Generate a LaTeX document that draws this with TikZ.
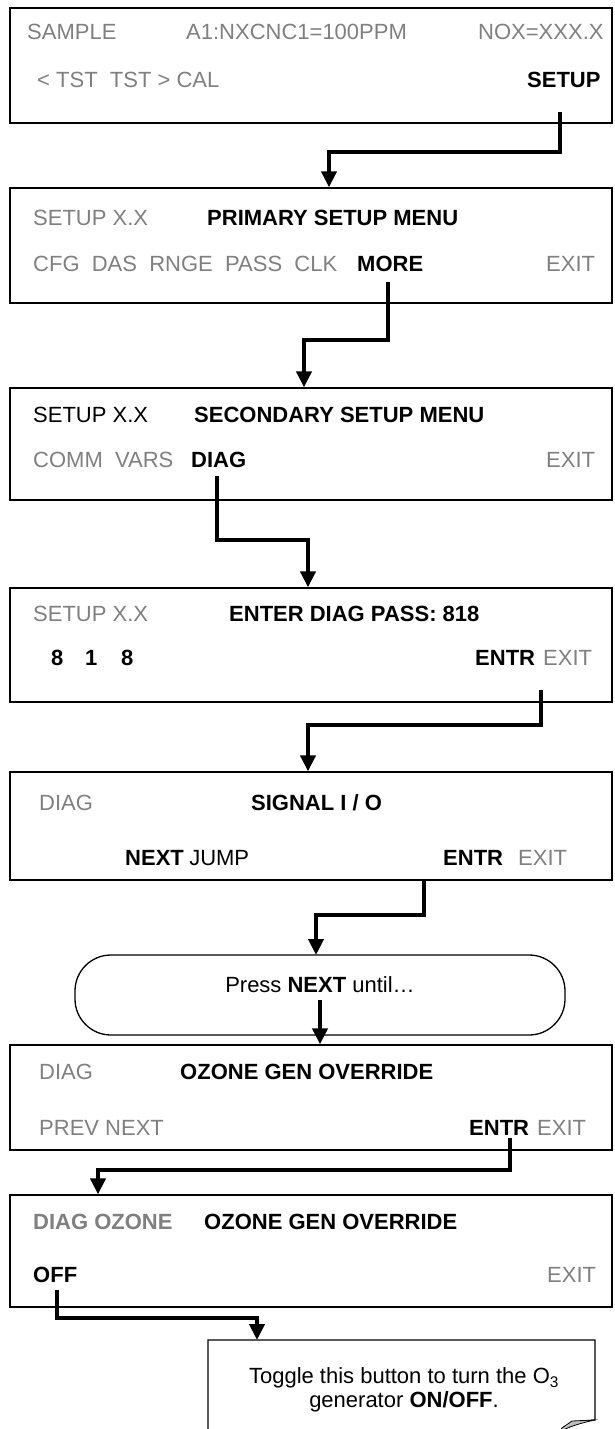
\documentclass[tikz,border=0pt]{standalone}
\usepackage{fontspec}
\setmainfont{Liberation Sans}
\usetikzlibrary{arrows.meta}
\definecolor{txtgray}{HTML}{808080}
\begin{document}
\begin{tikzpicture}[x=1pt,y=-1pt,
  screen/.style={draw, line width=1.3pt, minimum width=602pt, inner sep=0pt},
  g/.style={anchor=west, text=txtgray, font=\fontsize{22}{26}\selectfont, inner sep=0pt},
  gb/.style={anchor=west, text=txtgray, font=\fontsize{22}{26}\selectfont\bfseries, inner sep=0pt},
  b/.style={anchor=west, font=\fontsize{22}{26}\selectfont\bfseries, inner sep=0pt},
  k/.style={anchor=west, font=\fontsize{22}{26}\selectfont, inner sep=0pt},
  conn/.style={line width=4pt, -{Triangle[length=16pt,width=15pt]}},
]
\useasboundingbox (0,0) rectangle (615,1429);
\fill[white] (0,0) rectangle (615,1429);

% screens
\node[screen, minimum height=115pt] (s1) at (311,65.5) {};
\node[screen, minimum height=115pt] (s2) at (311,245.5) {};
\node[screen, minimum height=112pt] (s3) at (311,444) {};
\node[screen, minimum height=114pt] (s4) at (311,645) {};
\node[screen, minimum height=108pt] (s5) at (311,826) {};
\node[screen, minimum height=105pt] (s6) at (311,1097.5) {};
\node[screen, minimum height=112pt] (s7) at (311,1251) {};

% box 1
\node[g] (t1a) at (27,32) {SAMPLE};
\node[g] (t1b) at (186,32) {A1:NXCNC1=100PPM};
\node[g] (t1c) at (478,32) {NOX=XXX.X};
\node[g] (t1d) at (37,80) {< TST\ \ TST > CAL};
\node[b] (setup) at (527,80) {SETUP};

% box 2
\node[g] (t2a) at (33,218) {SETUP X.X};
\node[b] (t2b) at (207,218) {PRIMARY SETUP MENU};
\node[g] (t2c) at (33,264) {CFG\ \ DAS\ \ RNGE\ \ PASS\ \ CLK};
\node[b] (more) at (357,264) {MORE};
\node[g] (t2e) at (546,264) {EXIT};

% box 3
\node[k] (t3a) at (33,415) {SETUP X.X};
\node[b] (t3b) at (194,415) {SECONDARY SETUP MENU};
\node[g] (t3c) at (33,460) {COMM\ \ VARS};
\node[b] (diag) at (191,460) {DIAG};
\node[g] (t3e) at (546,460) {EXIT};

% box 4
\node[g] (t4a) at (33,614) {SETUP X.X};
\node[b] (t4b) at (229,614) {ENTER DIAG PASS: 818};
\node[b] (n8a) at (51,658) {8};
\node[b] (n1) at (85,658) {1};
\node[b] (n8b) at (121,658) {8};
\node[b] (entr4) at (475,658) {ENTR};
\node[g] (t4e) at (543,658) {EXIT};

% box 5
\node[g] (t5a) at (39,803) {DIAG};
\node[b] (t5b) at (251,803) {SIGNAL I / O};
\node[b] (next5) at (125,858) {NEXT};
\node[k, anchor=base west] (jump) at ([xshift=5pt]next5.base east) {JUMP};
\node[b] (entr5) at (443,858) {ENTR};
\node[g] (t5e) at (518,858) {EXIT};

% press next
\draw[line width=1.3pt, rounded corners=36pt] (75,955) rectangle (565,1035);
\node[font=\fontsize{22}{26}\selectfont, inner sep=0pt] (press) at (320,985) {Press \textbf{NEXT} until…};

% box 6
\node[g] (t6a) at (39,1072) {DIAG};
\node[b] (t6b) at (180,1072) {OZONE GEN OVERRIDE};
\node[g] (t6c) at (39,1128) {PREV NEXT};
\node[b] (entr6) at (469,1128) {ENTR};
\node[g] (t6e) at (537,1128) {EXIT};

% box 7
\node[gb] (t7a) at (33,1222) {DIAG OZONE};
\node[b] (t7b) at (204,1222) {OZONE GEN OVERRIDE};
\node[b] (off) at (33,1275) {OFF};
\node[g] (t7e) at (547,1275) {EXIT};

% callout
\begin{scope}
\clip (0,0) rectangle (615,1429);
\draw[line width=1.3pt] (208,1440) -- (208,1340) -- (595,1340) -- (595,1420) .. controls (584,1421) and (572,1423) .. (562,1428);
\fill[gray!50, draw=black, line width=0.8pt] (562,1428) -- (572,1421) -- (594,1420) .. controls (582,1423) and (570,1426) .. (559,1432) -- cycle;
\end{scope}
\node[font=\fontsize{22}{24}\selectfont, align=center, inner sep=0pt] (note) at (404,1390)
  {Toggle this button to turn the O\textsubscript{3}\\generator \textbf{ON/OFF}.};

% connectors
\coordinate (a1) at (560,112);
\coordinate (j1) at (329,152);
\draw[conn] (a1) |- (j1) -- (j1 |- s2.north);

\coordinate (a2) at (388,282);
\coordinate (j2) at (304,340);
\draw[conn] (a2) |- (j2) -- (j2 |- s3.north);

\coordinate (a3) at (217,476);
\coordinate (j3) at (308,540);
\draw[conn] (a3) |- (j3) -- (j3 |- s4.north);

\coordinate (a4) at (541,690);
\coordinate (j4) at (308,725);
\draw[conn] (a4) |- (j4) -- (j4 |- s5.north);

\coordinate (a5) at (424,880);
\coordinate (j5) at (316,915);
\draw[conn] (a5) |- (j5) -- (316,955);

\coordinate (a6) at (320,1000);
\draw[conn] (a6) -- (a6 |- s6.north);

\coordinate (a7) at (510,1138);
\coordinate (j7) at (98,1170);
\draw[conn] (a7) |- (j7) -- (j7 |- s7.north);

\coordinate (a8) at (57,1290);
\coordinate (j8) at (257,1318);
\draw[conn] (a8) |- (j8) -- (257,1340);
\end{tikzpicture}
\end{document}
